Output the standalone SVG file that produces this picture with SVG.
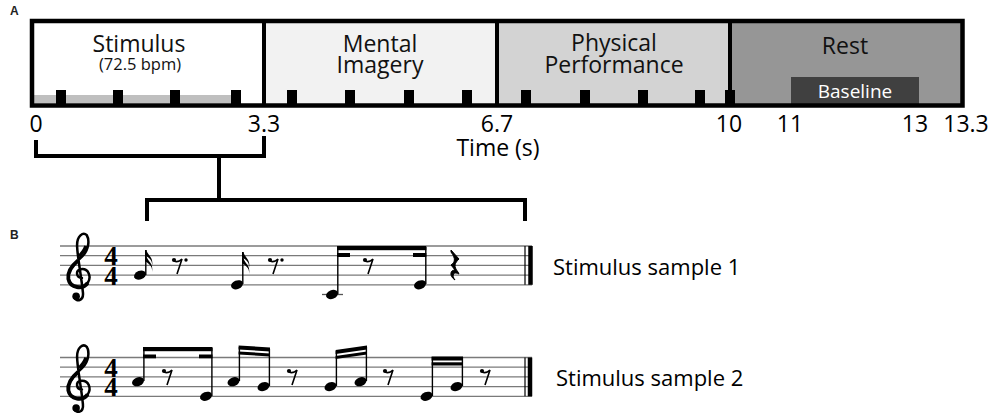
<svg xmlns="http://www.w3.org/2000/svg" width="1000" height="419" viewBox="0 0 1000 419">
<style>
.t{font-family:"Open Sans","Noto Sans",sans-serif;font-size:23px;fill:#111;text-anchor:middle}
.ax{font-family:"Open Sans","Noto Sans",sans-serif;font-size:23px;fill:#000;text-anchor:middle}
.pl{font-family:"Liberation Sans",Arial,sans-serif;font-size:12px;font-weight:bold;fill:#222}
.ts{font-family:"Liberation Serif","DejaVu Serif",serif;font-size:27px;font-weight:bold;fill:#000;text-anchor:middle}
.sl{font-family:"Open Sans","Noto Sans",sans-serif;font-size:22px;fill:#000}
.tk{fill:#000}
.staff{stroke:#7a7a7a;stroke-width:1.3}
.stem{stroke:#000;stroke-width:1.4}
.br{fill:none;stroke:#000;stroke-width:4;stroke-linejoin:miter}
.clef{fill:none;stroke:#000;stroke-width:2.6;stroke-linecap:round}
.rest{fill:none;stroke:#000;stroke-width:1.6}
</style>
<defs>
<ellipse id="nh" cx="0" cy="0" rx="6.2" ry="4.3" transform="rotate(-22)"/>
<g id="clefg">
<path class="clef" d="M2,3 C-4,3 -5,-5 1,-6 C9,-7 12,2 8,8 C3,15 -10,14 -12,4 C-13,-6 -4,-13 3,-20 C9,-26 10,-36 7,-41 C3,-45 -3,-40 -3,-31 C-3,-20 1,-2 3,18 C4,27 -4,28 -6,23"/>
<path fill="none" stroke="#000" stroke-width="4" d="M8,8 C3,15 -10,14 -12,4 C-13,-3 -8,-10 -2,-15"/>
<path fill="none" stroke="#000" stroke-width="3.4" d="M6,-30 C5,-25 1,-22 -1,-19"/>
<circle cx="-4" cy="22" r="3.9" fill="#000"/>
</g>
<g id="r8"><circle cx="0" cy="0" r="2.1" fill="#000"/><path class="rest" d="M0,1 Q4,3 8,-1 L3,14"/></g>
<g id="r8d"><use href="#r8"/><circle cx="12" cy="0" r="1.7" fill="#000"/></g>
<path id="flag" d="M0,0 L1.5,0 C2,5 9,7 7,16 C8,9 2,7 0,5 Z"/>
</defs>

<text class="pl" x="10" y="15">A</text>
<text class="pl" x="10" y="239">B</text>

<g id="stimulus">
<rect x="32" y="21" width="232" height="84" fill="#ffffff"/>
<rect x="34" y="95" width="198" height="8" fill="#bfbfbf"/>
<text class="t" x="139" y="52">Stimulus<tspan x="140" y="70" style="font-size:16.5px">(72.5 bpm)</tspan></text>
</g>
<g id="mental">
<rect x="264" y="21" width="233" height="84" fill="#f2f2f2"/>
<text class="t" x="380" y="52">Mental<tspan x="380" y="73">Imagery</tspan></text>
</g>
<g id="physical">
<rect x="497" y="21" width="233" height="84" fill="#d3d3d3"/>
<text class="t" x="614" y="51">Physical<tspan x="614" y="73">Performance</tspan></text>
</g>
<g id="rest">
<rect x="730" y="21" width="232" height="84" fill="#969696"/>
<text class="t" x="845" y="54">Rest</text>
</g>
<g id="baseline">
<rect x="791" y="77" width="128" height="27" fill="#404040"/>
<text class="t" x="855" y="98" style="font-size:19px;fill:#fff">Baseline</text>
</g>
<g id="ticks">
<rect class="tk" x="56" y="90" width="10" height="14"/>
<rect class="tk" x="113" y="90" width="10" height="14"/>
<rect class="tk" x="170" y="90" width="10" height="14"/>
<rect class="tk" x="231" y="90" width="10" height="14"/>
<rect class="tk" x="287" y="90" width="10" height="14"/>
<rect class="tk" x="345" y="90" width="10" height="14"/>
<rect class="tk" x="404" y="90" width="10" height="14"/>
<rect class="tk" x="462" y="90" width="10" height="14"/>
<rect class="tk" x="521" y="90" width="10" height="14"/>
<rect class="tk" x="580" y="90" width="10" height="14"/>
<rect class="tk" x="638" y="90" width="10" height="14"/>
<rect class="tk" x="695" y="90" width="10" height="14"/>
<rect class="tk" x="725" y="90" width="10" height="14"/>
</g>
<g id="frame" fill="none" stroke="#000">
<rect x="32" y="21" width="930.5" height="84.5" stroke-width="4.5"/>
<line x1="264" y1="21" x2="264" y2="105" stroke-width="4"/>
<line x1="497" y1="21" x2="497" y2="105" stroke-width="4"/>
<line x1="730" y1="21" x2="730" y2="105" stroke-width="4"/>
</g>
<g id="axis">
<text class="ax" x="36" y="132">0</text>
<text class="ax" x="264" y="132">3.3</text>
<text class="ax" x="497" y="132">6.7</text>
<text class="ax" x="729" y="132">10</text>
<text class="ax" x="790" y="132">11</text>
<text class="ax" x="915" y="132">13</text>
<text class="ax" x="966" y="132">13.3</text>
<text class="ax" x="498" y="156">Time (s)</text>
</g>

<g id="connectors">
<polyline class="br" points="36,140 36,156 264,156 264,136"/>
<line class="br" x1="219" y1="156" x2="219" y2="200"/>
<polyline class="br" points="147,221 147,200 525,200 525,221"/>
</g>

<g id="sample1">
<g class="staff">
<line x1="60" y1="246" x2="532" y2="246"/>
<line x1="60" y1="255.7" x2="532" y2="255.7"/>
<line x1="60" y1="265.4" x2="532" y2="265.4"/>
<line x1="60" y1="275.1" x2="532" y2="275.1"/>
<line x1="60" y1="284.8" x2="532" y2="284.8"/>
</g>
<use href="#clefg" transform="translate(80,275) scale(0.97)"/>
<text class="ts" x="111" y="265">4<tspan x="111" y="284.5">4</tspan></text>
<use href="#nh" x="140" y="275.1"/>
<line class="stem" x1="145.8" y1="275" x2="145.8" y2="250"/>
<use href="#flag" x="145" y="250"/>
<use href="#flag" x="145" y="256"/>
<use href="#r8d" x="174" y="260"/>
<use href="#nh" x="237" y="284.8"/>
<line class="stem" x1="242.8" y1="284" x2="242.8" y2="252"/>
<use href="#flag" x="242" y="252"/>
<use href="#flag" x="242" y="258"/>
<use href="#r8d" x="270" y="260"/>
<line x1="322" y1="294.5" x2="343" y2="294.5" stroke="#555" stroke-width="1.3"/>
<use href="#nh" x="332" y="294.5"/>
<line class="stem" x1="337.8" y1="294" x2="337.8" y2="247"/>
<rect x="337" y="246" width="89.3" height="4.2"/>
<rect x="337" y="253" width="13" height="4"/>
<rect x="413" y="253" width="13.3" height="4"/>
<use href="#r8" x="365" y="260"/>
<use href="#nh" x="420" y="284.8"/>
<line class="stem" x1="425.8" y1="284" x2="425.8" y2="247"/>
<path fill="#000" stroke="#000" stroke-width="1" d="M451,250 L459,259 C455,263 453,266 458,272 L459,274 C454,271 451,275 455,280 C449,276 450,270 455,270 L451,265 C455,262 456,259 451,252 Z"/>
<line x1="525" y1="246" x2="525" y2="284.8" stroke="#000" stroke-width="1.2"/>
<line x1="530.5" y1="246" x2="530.5" y2="284.8" stroke="#000" stroke-width="4.5"/>
</g>

<g id="sample2">
<g class="staff">
<line x1="60" y1="357.5" x2="532" y2="357.5"/>
<line x1="60" y1="367.2" x2="532" y2="367.2"/>
<line x1="60" y1="376.9" x2="532" y2="376.9"/>
<line x1="60" y1="386.6" x2="532" y2="386.6"/>
<line x1="60" y1="396.3" x2="532" y2="396.3"/>
</g>
<use href="#clefg" transform="translate(80,386.6) scale(0.97)"/>
<text class="ts" x="111" y="376.5">4<tspan x="111" y="396">4</tspan></text>
<use href="#nh" x="138" y="381.7"/>
<line class="stem" x1="143.9" y1="381" x2="143.9" y2="348"/>
<use href="#nh" x="206" y="396.3"/>
<line class="stem" x1="211.9" y1="396" x2="211.9" y2="348"/>
<rect x="143" y="347" width="69.5" height="4.2"/>
<rect x="143" y="354.5" width="13" height="3.8"/>
<rect x="199" y="354.5" width="13.5" height="3.8"/>
<use href="#r8" x="164" y="371"/>
<use href="#nh" x="233.5" y="381.7"/>
<line class="stem" x1="239.4" y1="381" x2="239.4" y2="347"/>
<use href="#nh" x="263.5" y="386.6"/>
<line class="stem" x1="269.4" y1="386" x2="269.4" y2="349"/>
<polygon points="238.6,345.5 270,347.5 270,351.5 238.6,349.5"/>
<polygon points="238.6,351.5 270,353.5 270,356.5 238.6,354.5"/>
<use href="#r8" x="289" y="371"/>
<use href="#nh" x="330.5" y="386.6"/>
<line class="stem" x1="336.4" y1="386" x2="336.4" y2="351"/>
<use href="#nh" x="360.5" y="381.7"/>
<line class="stem" x1="366.4" y1="381" x2="366.4" y2="347"/>
<polygon points="335.6,350 367,345.5 367,349.5 335.6,354"/>
<polygon points="335.6,356 367,351.5 367,354.5 335.6,359"/>
<use href="#r8" x="385" y="371"/>
<use href="#nh" x="426.5" y="396.3"/>
<line class="stem" x1="432.4" y1="396" x2="432.4" y2="357"/>
<use href="#nh" x="456.5" y="386.6"/>
<line class="stem" x1="462.4" y1="386" x2="462.4" y2="357"/>
<rect x="431.6" y="356.5" width="31.4" height="4"/>
<rect x="431.6" y="362.3" width="31.4" height="3.2"/>
<use href="#r8" x="482" y="371"/>
<line x1="525" y1="357.5" x2="525" y2="396.3" stroke="#000" stroke-width="1.2"/>
<line x1="530" y1="357.5" x2="530" y2="396.3" stroke="#000" stroke-width="4.5"/>
</g>

<g id="labels">
<text class="sl" x="553" y="275">Stimulus sample 1</text>
<text class="sl" x="556" y="386">Stimulus sample 2</text>
</g>
</svg>
